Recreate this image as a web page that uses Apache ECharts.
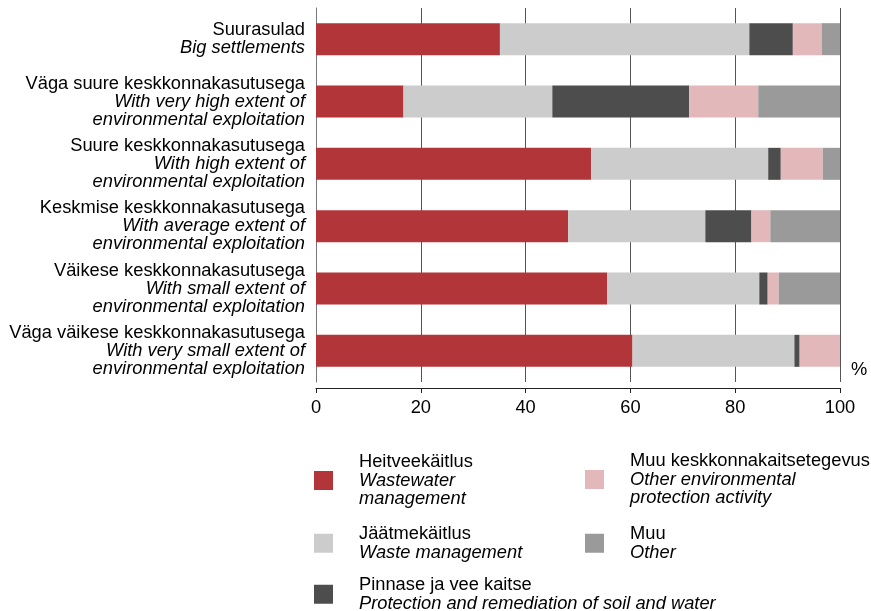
<!DOCTYPE html>
<html>
<head>
<meta charset="utf-8">
<script src="https://cdn.jsdelivr.net/npm/echarts@6/dist/echarts.min.js"></script>
<style>
html,body{margin:0;padding:0;background:#fff;}
#chart{width:871px;height:611px;}
</style>
</head>
<body>
<div id="chart"></div>
<script>
var categoriesEt = ['Suurasulad', 'Väga suure keskkonnakasutusega', 'Suure keskkonnakasutusega', 'Keskmise keskkonnakasutusega', 'Väikese keskkonnakasutusega', 'Väga väikese keskkonnakasutusega'];
var categoriesEn = ['Big settlements', 'With very high extent of\nenvironmental exploitation', 'With high extent of\nenvironmental exploitation', 'With average extent of\nenvironmental exploitation', 'With small extent of\nenvironmental exploitation', 'With very small extent of\nenvironmental exploitation'];

var seriesEt = ['Heitveekäitlus', 'Jäätmekäitlus', 'Pinnase ja vee kaitse', 'Muu keskkonnakaitsetegevus', 'Muu'];
var seriesEn = ['Wastewater\nmanagement', 'Waste management', 'Protection and remediation of soil and water', 'Other environmental\nprotection activity', 'Other'];

var wastewater = [35.1, 16.7, 52.5, 48.1, 55.6, 60.4];
var waste = [47.6, 28.4, 33.8, 26.2, 29.0, 30.9];
var soilWater = [8.3, 26.1, 2.4, 8.8, 1.6, 1.0];
var otherEnv = [5.5, 13.2, 8.0, 3.6, 2.1, 7.7];
var other = [3.5, 15.6, 3.3, 13.3, 11.7, 0];

var xTicks = [0, 20, 40, 60, 80, 100];
var unitLabel = '%';

var colors = ['#B2353A', '#CCCCCC', '#4D4D4D', '#E3B8BA', '#9A9A9A'];
var FONT = '"Liberation Sans", Arial, sans-serif';
var FS = 18.3;

function richLines(et, en) {
  var s = '{a|' + et + '}';
  en.split('\n').forEach(function (l) { s += '\n{b|' + l + '}'; });
  return s;
}

var chart = echarts.init(document.getElementById('chart'), null, {renderer: 'canvas'});

var allData = [wastewater, waste, soilWater, otherEnv, other];
var series = seriesEt.map(function (name, i) {
  return {
    name: name,
    type: 'bar',
    stack: 'total',
    barWidth: 32,
    itemStyle: {color: colors[i]},
    emphasis: {disabled: true},
    data: allData[i]
  };
});

var richStyle = {
  a: {fontFamily: FONT, fontSize: FS, lineHeight: 18, color: '#000'},
  b: {fontFamily: FONT, fontSize: FS, lineHeight: 18, color: '#000', fontStyle: 'italic'}
};

var legendPos = [
  {left: 314, top: 453},
  {left: 314, top: 525},
  {left: 314, top: 576},
  {left: 585, top: 452},
  {left: 585, top: 525}
];

var legends = seriesEt.map(function (name, i) {
  return {
    data: [name],
    left: legendPos[i].left,
    top: legendPos[i].top,
    padding: 0,
    icon: 'rect',
    itemWidth: 19,
    itemHeight: 19,
    selectedMode: false,
    formatter: function (n) {
      var k = seriesEt.indexOf(n);
      return richLines(seriesEt[k], seriesEn[k]);
    },
    textStyle: {
      padding: [0, 0, 0, 21],
      rich: {
        a: {fontFamily: FONT, fontSize: FS, lineHeight: 18.5, color: '#000'},
        b: {fontFamily: FONT, fontSize: FS, lineHeight: 18.5, color: '#000', fontStyle: 'italic'}
      }
    }
  };
});

var option = {
  animation: false,
  backgroundColor: '#fff',
  textStyle: {fontFamily: FONT},
  grid: {left: 316, right: 31, top: 8, bottom: 229, containLabel: false},
  legend: legends,
  xAxis: {
    type: 'value',
    min: xTicks[0],
    max: xTicks[xTicks.length - 1],
    interval: xTicks[1] - xTicks[0],
    offset: 6,
    axisLine: {show: true, lineStyle: {color: '#222', width: 1}},
    axisTick: {show: true, length: 5, inside: false, lineStyle: {color: '#222'}},
    axisLabel: {fontFamily: FONT, fontSize: FS, color: '#000', margin: 11},
    splitLine: {show: true, lineStyle: {color: '#555', width: 1}}
  },
  yAxis: {
    type: 'category',
    inverse: true,
    data: categoriesEt,
    axisLine: {show: true, lineStyle: {color: '#777', width: 1}},
    axisTick: {show: false},
    axisLabel: {
      margin: 11,
      align: 'right',
      formatter: function (v, idx) {
        return richLines(categoriesEt[idx], categoriesEn[idx]);
      },
      rich: richStyle
    }
  },
  graphic: [{
    type: 'text',
    left: 851,
    top: 361,
    style: {text: unitLabel, fontFamily: FONT, fontSize: FS, fill: '#000'}
  }],
  series: series
};

chart.setOption(option);
</script>
</body>
</html>
